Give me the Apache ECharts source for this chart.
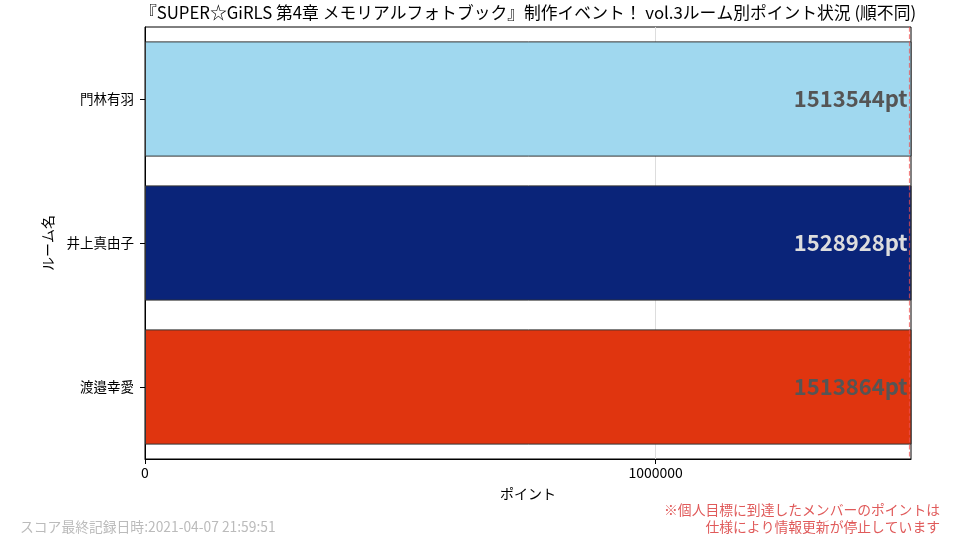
<!DOCTYPE html>
<html>
<head>
<meta charset="utf-8">
<script src="https://cdn.jsdelivr.net/npm/echarts@6/dist/echarts.min.js"></script>
<style>
  html, body { margin: 0; padding: 0; background: #fff; }
  #chart { width: 960px; height: 540px; }
</style>
</head>
<body>
<div id="chart"></div>
<script>
// データ
var rooms = ['門林有羽', '井上真由子', '渡邉幸愛'];
var points = [1513544, 1528928, 1513864];
var target = 1500000;
var xTicks = [0, 1000000];

var barColors = ['#a0d8ef', '#0a2479', '#e0350f'];
var labelColors = ['#555555', '#dddddd', '#555555'];

var myChart = echarts.init(document.getElementById('chart'));
var font = '"Noto Sans CJK JP", "Noto Sans", sans-serif';

var option = {
    textStyle: { fontFamily: font },
    animation: false,
    graphic: [{
        type: 'text',
        style: {
            text: '『SUPER☆GiRLS 第4章 メモリアルフォトブック』制作イベント！ vol.3ルーム別ポイント状況 (順不同)',
            x: 528, y: 13,
            align: 'center', verticalAlign: 'middle',
            fontSize: 16.8, fill: '#000', fontFamily: font
        }
    }, {
        type: 'text',
        style: {
            text: 'スコア最終記録日時:2021-04-07 21:59:51',
            x: 20, y: 527,
            align: 'left', verticalAlign: 'middle',
            fontSize: 13.8, fill: '#bbbbbb', fontFamily: font
        }
    }, {
        type: 'text',
        style: {
            text: '※個人目標に到達したメンバーのポイントは\n仕様により情報更新が停止しています',
            x: 940, y: 518,
            align: 'right', verticalAlign: 'middle',
            lineHeight: 17,
            fontSize: 13.8, fill: '#e05a5a', fontFamily: font
        }
    }],
    grid: {
        left: 145, right: 49, top: 27, bottom: 81,
        show: true, borderColor: '#000', borderWidth: 1,
        containLabel: false
    },
    xAxis: {
        type: 'value',
        min: 0,
        max: target,
        interval: 1000000,
        name: 'ポイント',
        nameLocation: 'middle',
        nameGap: 28,
        nameTextStyle: { fontSize: 14, color: '#000' },
        axisLine: { show: true, lineStyle: { color: '#000' } },
        axisTick: { show: true, length: 5, customValues: xTicks, lineStyle: { color: '#000' } },
        axisLabel: {
            color: '#000', fontSize: 14, margin: 7,
            customValues: xTicks,
            formatter: function (v) { return String(v); }
        },
        splitLine: { show: true, lineStyle: { color: '#dddddd' } }
    },
    yAxis: {
        type: 'category',
        data: rooms,
        inverse: true,
        name: 'ルーム名',
        nameLocation: 'middle',
        nameGap: 90,
        nameRotate: 90,
        nameTextStyle: { fontSize: 14, color: '#000' },
        axisLine: { show: true, lineStyle: { color: '#000' } },
        axisTick: { show: true, alignWithLabel: true, length: 5, lineStyle: { color: '#000' } },
        axisLabel: { color: '#000', fontSize: 13.5, margin: 11 },
        splitLine: { show: false }
    },
    series: [{
        type: 'bar',
        barCategoryGap: '20%',
        clip: true,
        data: points.map(function (v, i) {
            return {
                value: v,
                itemStyle: { color: barColors[i], borderColor: '#333', borderWidth: 1 },
                label: { color: labelColors[i] }
            };
        }),
        label: {
            show: true,
            position: 'insideRight',
            distance: 4,
            fontSize: 22,
            fontWeight: 'bold',
            formatter: function (p) { return p.value + 'pt'; }
        },
        markLine: {
            silent: true,
            symbol: 'none',
            z: 10,
            label: { show: false },
            lineStyle: { color: 'rgba(240,80,80,0.7)', type: 'dashed', width: 1.2 },
            data: [{ xAxis: target - 3000 }]
        }
    }]
};

myChart.setOption(option);
</script>
</body>
</html>
